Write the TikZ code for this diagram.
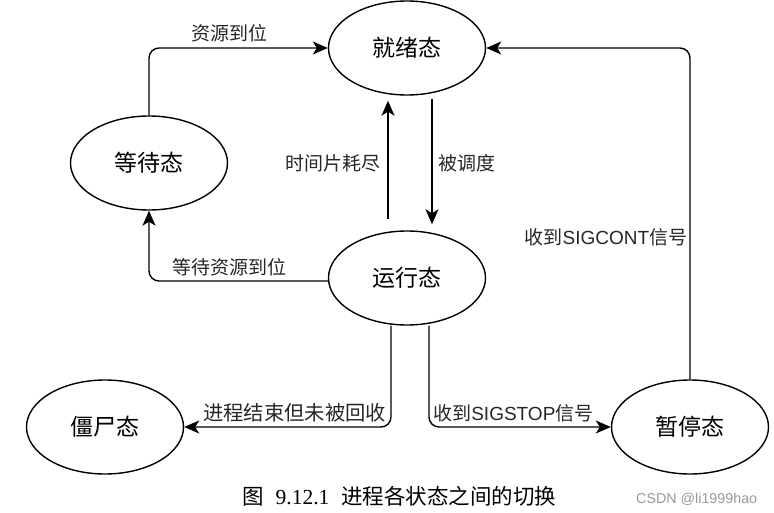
\documentclass[tikz,border=0pt]{standalone}
\usepackage{fontspec}
\setmainfont{Liberation Sans}
\newfontfamily\cjk{Noto Sans CJK SC}
\newfontfamily\capserif{Liberation Serif}
\usetikzlibrary{shapes.geometric,arrows.meta}
\begin{document}
\begin{tikzpicture}[x=1pt,y=-1pt,
  state/.style={ellipse, draw, line width=1.4pt, minimum width=157pt, minimum height=94pt,
    inner sep=0pt, font=\cjk\fontsize{23}{23}\selectfont},
  conn/.style={line width=1.4pt, -{Stealth[length=15pt,width=13pt,inset=4pt]}, rounded corners=10pt},
  lbl/.style={font=\fontsize{19}{19}\selectfont, inner sep=1pt, text=black!85}
]
\useasboundingbox (0,0) rectangle (774,513);

\node[state] (ready)  at (407,48)  {就绪态};
\node[state] (wait)   at (149,163) {等待态};
\node[state] (run)    at (407,278) {运行态};
\node[state] (zombie) at (105,427) {僵尸态};
\node[state] (stop)   at (690,427) {暂停态};

\draw[conn] (wait.north) |- node[lbl, pos=0.725, above=4pt]{\cjk 资源到位} (ready.west);
\draw[conn, shorten <=11pt, shorten >=5pt] ([xshift=-19pt]run.north) -- node[lbl, left=6pt]{\cjk 时间片耗尽} ([xshift=-19pt]ready.south);
\draw[conn, shorten <=3pt, shorten >=6pt] ([xshift=25pt]ready.south) -- node[lbl, right=5pt]{\cjk 被调度} ([xshift=25pt]run.north);
\draw[conn] ([yshift=-3pt]run.west) -| node[lbl, pos=0.275, above=3pt]{\cjk 等待资源到位} (wait.south);
\draw[conn] ([xshift=-16pt]run.south) |- node[lbl, pos=0.733, above=3pt, font=\fontsize{20.3}{20.3}\selectfont]{\cjk 进程结束但未被回收} (zombie.east);
\draw[conn] ([xshift=22pt]run.south) |- node[lbl, pos=0.732, above=3pt]{{\cjk 收到}SIGSTOP{\cjk 信号}} (stop.west);
\draw[conn] (stop.north) |- node[lbl, pos=0.214, left=1pt]{{\cjk 收到}SIGCONT{\cjk 信号}} (ready.east);

\node[anchor=base west, inner sep=0pt, font=\fontsize{21.5}{21.5}\selectfont] (cap) at (242,504)
  {{\cjk 图}\hspace{12pt}{\capserif 9.12.1}\hspace{12pt}{\cjk 进程各状态之间的切换}};
\node[anchor=base west, inner sep=0pt, font=\fontsize{14.3}{14.3}\selectfont, text=black!40] (mark) at (636,503) {CSDN @li1999hao};
\end{tikzpicture}
\end{document}
